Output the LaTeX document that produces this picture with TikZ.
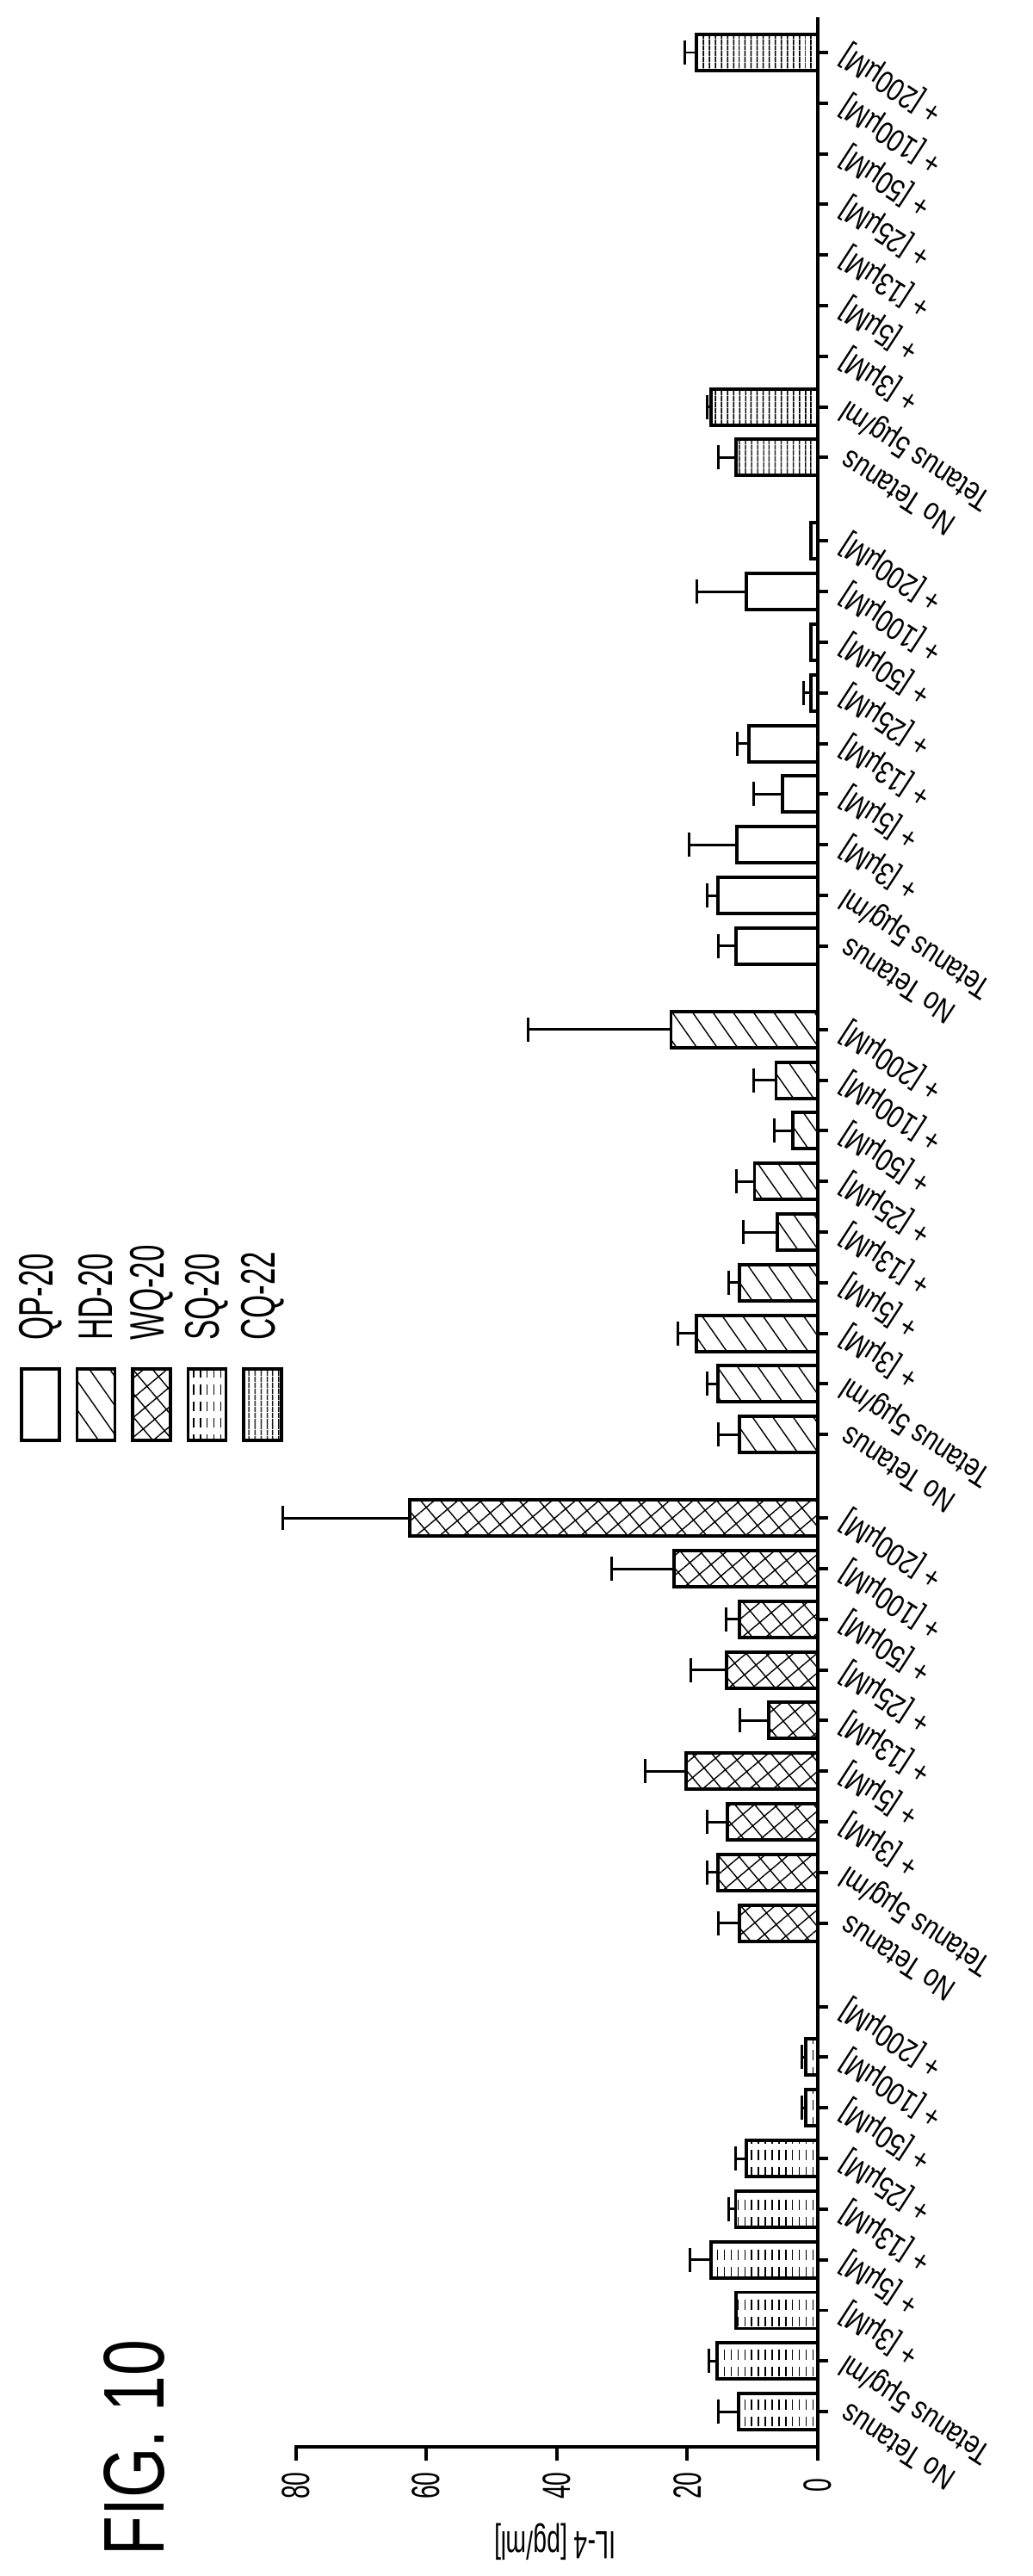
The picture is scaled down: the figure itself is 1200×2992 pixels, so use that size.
\documentclass[tikz,border=0pt]{standalone}
\usepackage{fontspec}
\setmainfont{Liberation Sans}
\newfontfamily\condA[FakeStretch=0.62]{Liberation Sans}
\newfontfamily\condB[FakeStretch=0.8]{Liberation Sans}
\newfontfamily\condC[FakeStretch=0.75]{Liberation Sans}
\usetikzlibrary{patterns,patterns.meta}

\pgfdeclarepatternformonly{sqdash}{\pgfqpoint{-1pt}{-1pt}}{\pgfqpoint{6pt}{12pt}}{\pgfqpoint{4.5pt}{11pt}}{%
  \pgfsetlinewidth{0.9pt}
  \pgfpathmoveto{\pgfqpoint{2pt}{0pt}}\pgfpathlineto{\pgfqpoint{2pt}{6.5pt}}\pgfusepath{stroke}}

\tikzset{
  bar/.style={line width=2.2pt,draw=black},
  barQP/.style={fill=white},
  barHD/.style={pattern={Lines[angle=-55,distance=11pt,line width=0.8pt]}},
  barWQ/.style={pattern={Hatch[angle=40,distance=10pt,line width=0.8pt]}},
  barSQ/.style={pattern=sqdash},
  barCQ/.style={pattern={Lines[angle=90,distance=4pt,line width=1.1pt]}},
  err/.style={line width=1.7pt},
  axis/.style={line width=2.2pt},
  ticklab/.style={rotate=90,font=\condA\fontsize{26}{26}\selectfont},
  catlab/.style={rotate=147,anchor=east,font=\condB\fontsize{21}{21}\selectfont,inner sep=0pt},
}

\begin{document}
\begin{tikzpicture}[x=0.02cm,y=-0.02cm]
\useasboundingbox (0,0) rectangle (1200,2992);

% axes
\draw[axis] (950,20) -- (950,2842) -- (342,2842);
\foreach \t in {0,20,40,60,80}{
  \draw[axis] ({950-7.58*\t},2842) -- ++(0,16);
  \node[ticklab] (tick\t) at ({950-7.58*\t},2887) {\t};
}
\node[rotate=180,font=\condA\fontsize{26}{26}\selectfont] (ylab) at (645,2952) {IL-4 [pg/ml]};

% bars, one group per compound
\foreach \grp/\sty/\vals in {
  0/barSQ/{12.1/15.2,15.4/16.7,12.5/0,16.4/19.6,12.6/13.6,11/12.6,1.8/2.4,1.8/2.4,0/0},
  1/barWQ/{12/15.2,15.3/16.9,13.8/16.9,20.2/26.4,7.5/12,14/19.5,12/14,22/31.6,62.5/82},
  2/barHD/{12/15.3,15.3/16.9,18.6/21.4,12/13.6,6.2/11.4,9.7/12.5,3.8/6.6,6.4/9.8,22.5/44.4},
  3/barQP/{12.5/15.3,15.3/16.9,12.4/19.7,5.4/9.8,10.5/12.4,1.1/2.2,1.1/0,11/18.6,1.1/0},
  4/barCQ/{12.5/15.2,16.4/17,0/0,0/0,0/0,0/0,0/0,0/0,18.6/20.4}}{
  \foreach \v/\e [count=\k from 0] in \vals {
    \pgfmathsetmacro\yc{2801-\grp*567.4-\k*58.8}
    \pgfmathsetmacro\xl{950-7.58*\v}
    \pgfmathsetmacro\xe{950-7.58*\e}
    \draw[axis] (950,\yc) -- ++(12,0);
    \ifdim \v pt>0pt
      \pgfmathtruncatemacro\haserr{\e>\v ? 1 : 0}
      \ifnum\haserr=1
        \draw[err] (\xl,\yc) -- (\xe,\yc);
        \draw[err] (\xe,\yc-14) -- (\xe,\yc+14);
      \fi
      \draw[bar,\sty] (\xl,\yc-21) rectangle (950,\yc+21);
    \fi
  }
  \foreach \lab [count=\k from 0] in {No Tetanus,Tetanus 5µg/ml,+ [3µM],+ [5µM],+ [13µM],+ [25µM],+ [50µM],+ [100µM],+ [200µM]}{
    \pgfmathsetmacro\yc{2801-\grp*567.4-\k*58.8}
    \node[catlab] (lab\grp-\k) at (980,\yc) {\lab};
  }
}

% legend
\foreach \sty/\name [count=\i from 0] in {barQP/QP-20,barHD/HD-20,barWQ/WQ-20,barSQ/SQ-20,barCQ/CQ-22}{
  \draw[bar,\sty] ({25+64.5*\i},1590) rectangle ++(44,83);
  \node[rotate=90,anchor=west,font=\condA\fontsize{32}{32}\selectfont,inner sep=0pt] (leg\i) at ({47+64.5*\i},1557) {\name};
}

\node[rotate=90,font=\condC\fontsize{57}{57}\selectfont] (fig) at (156,2843) {FIG. 10};
\end{tikzpicture}
\end{document}
